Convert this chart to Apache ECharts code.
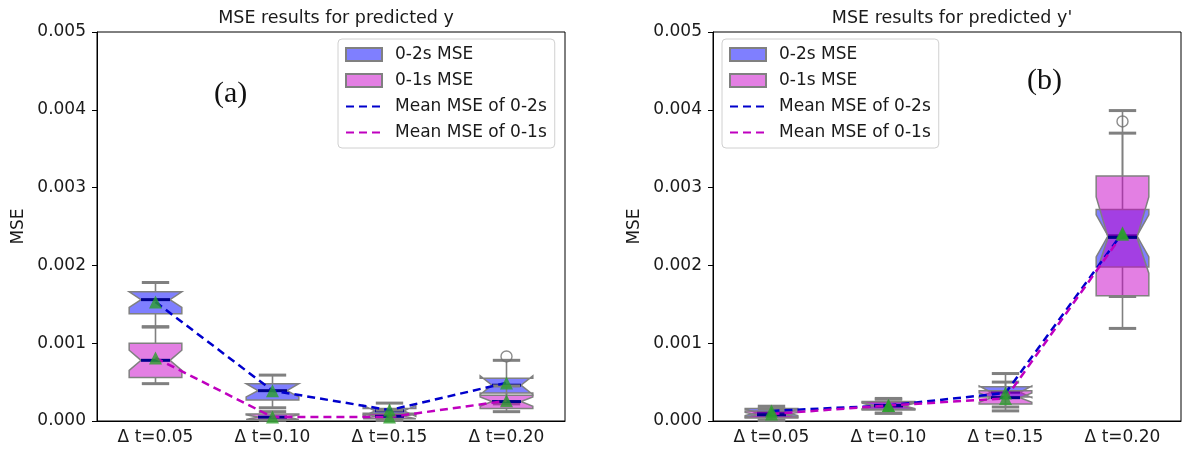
<!DOCTYPE html>
<html>
<head>
<meta charset="utf-8">
<script src="https://cdn.jsdelivr.net/npm/echarts@6/dist/echarts.min.js"></script>
<style>
  html, body { margin: 0; padding: 0; background: #fff; }
  #main { width: 1182px; height: 457px; }
</style>
</head>
<body>
<div id="main"></div>
<script>
// categories on both panels
var categories = ['Δ t=0.05', 'Δ t=0.10', 'Δ t=0.15', 'Δ t=0.20'];
var yTicks = [0, 0.001, 0.002, 0.003, 0.004, 0.005];

// (a) predicted y : box stats per category = [low, q1, median, q3, high]
var a2sBox = [[0.00121, 0.00138, 0.00156, 0.00166, 0.00178], [0.00017, 0.00027, 0.00039, 0.00048, 0.00059], [0.00001, 0.00008, 0.00013, 0.00016, 0.00023], [0.00022, 0.00036, 0.00046, 0.00055, 0.00078]];
var a2sNotch = [[0.00146, 0.00166], [0.00031, 0.00048], [0.00006, 0.00020], [0.00034, 0.00058]];
var a2sMean = [0.00153, 0.00039, 0.00014, 0.00049];
var a2sOut = [[3, 0.00083]];
var a1sBox = [[0.00048, 0.00056, 0.00078, 0.00100, 0.00121], [0.00001, 0.00002, 0.00005, 0.00009, 0.00012], [0.00001, 0.00003, 0.00006, 0.00010, 0.00014], [0.00012, 0.00016, 0.00025, 0.00033, 0.00045]];
var a1sNotch = [[0.00065, 0.00091], [0.00002, 0.00008], [0.00003, 0.00009], [0.00019, 0.00031]];
var a1sMean = [0.00081, 0.00005, 0.00005, 0.00026];

// (b) predicted y'
var b2sBox = [[0.00001, 0.00005, 0.00011, 0.00016, 0.00019], [0.00010, 0.00014, 0.00019, 0.00024, 0.00029], [0.00018, 0.00031, 0.00037, 0.00044, 0.00061], [0.00160, 0.00198, 0.00238, 0.00272, 0.00370]];
var b2sNotch = [[0.00007, 0.00015], [0.00015, 0.00023], [0.00030, 0.00045], [0.00211, 0.00265]];
var b2sMean = [0.00013, 0.00020, 0.00036, 0.00242];
var b2sOut = [[3, 0.00385]];
var b1sBox = [[0.00001, 0.00004, 0.00008, 0.00013, 0.00016], [0.00010, 0.00015, 0.00020, 0.00025, 0.00028], [0.00013, 0.00022, 0.00030, 0.00039, 0.00050], [0.00119, 0.00161, 0.00236, 0.00315, 0.00399]];
var b1sNotch = [[0.00005, 0.00011], [0.00016, 0.00024], [0.00024, 0.00036], [0.00190, 0.00288]];
var b1sMean = [0.00009, 0.00020, 0.00029, 0.00240];

var FONT = 'DejaVu Sans';
var BLUE_FILL = 'rgba(0,0,255,0.5)';
var PINK_FILL = 'rgba(200,0,200,0.5)';
var EDGE = '#808080';
var TXT = '#1a1a1a';

function boxData(box, notch) {
  return box.map(function (b, i) {
    return [i, b[0], b[1], b[2], b[3], b[4], notch[i][0], notch[i][1]];
  });
}

// matplotlib style notched box
function renderBox(params, api) {
  var i = api.value(0);
  var band = api.size([1, 0])[0];
  var hw = band * 0.225, nw = hw * 0.55, cw = hw * 0.52;
  var xc = api.coord([i, 0])[0];
  function y(k) { return api.coord([i, api.value(k)])[1]; }
  var low = y(1), q1 = y(2), med = y(3), q3 = y(4), high = y(5), nlo = y(6), nhi = y(7);
  var poly = [[xc - hw, q1], [xc + hw, q1], [xc + hw, nlo], [xc + nw, med], [xc + hw, nhi], [xc + hw, q3],
    [xc - hw, q3], [xc - hw, nhi], [xc - nw, med], [xc - hw, nlo]];
  var ws = { stroke: EDGE, lineWidth: 1.6 };
  var cs = { stroke: EDGE, lineWidth: 3 };
  return {
    type: 'group',
    children: [
      { type: 'line', shape: { x1: xc, y1: q1, x2: xc, y2: low }, style: ws },
      { type: 'line', shape: { x1: xc, y1: q3, x2: xc, y2: high }, style: ws },
      { type: 'line', shape: { x1: xc - cw, y1: low, x2: xc + cw, y2: low }, style: cs },
      { type: 'line', shape: { x1: xc - cw, y1: high, x2: xc + cw, y2: high }, style: cs },
      { type: 'polygon', shape: { points: poly }, style: { fill: api.visual('color'), stroke: EDGE, lineWidth: 1.5 } },
      { type: 'line', shape: { x1: xc - nw, y1: med, x2: xc + nw, y2: med }, style: { stroke: '#00008b', lineWidth: 3 } }
    ]
  };
}

function panelSeries(g, box2, notch2, mean2, out2, box1, notch1, mean1) {
  return [
    { name: '0-2s MSE', type: 'custom', xAxisIndex: g, yAxisIndex: g, renderItem: renderBox,
      itemStyle: { color: BLUE_FILL, borderColor: EDGE, borderWidth: 1 },
      encode: { x: 0, y: [1, 2, 3, 4, 5] }, data: boxData(box2, notch2), z: 2 },
    { name: '0-1s MSE', type: 'custom', xAxisIndex: g, yAxisIndex: g, renderItem: renderBox,
      itemStyle: { color: PINK_FILL, borderColor: EDGE, borderWidth: 1 },
      encode: { x: 0, y: [1, 2, 3, 4, 5] }, data: boxData(box1, notch1), z: 2 },
    { name: 'Mean MSE of 0-2s', type: 'line', xAxisIndex: g, yAxisIndex: g, data: mean2, symbol: 'none',
      lineStyle: { color: '#0000cc', width: 2.5, type: [8, 5] }, z: 3 },
    { name: 'Mean MSE of 0-1s', type: 'line', xAxisIndex: g, yAxisIndex: g, data: mean1, symbol: 'none',
      lineStyle: { color: '#bf00bf', width: 2.5, type: [8, 5] }, z: 3 },
    { type: 'scatter', xAxisIndex: g, yAxisIndex: g, symbol: 'triangle', symbolSize: 13,
      itemStyle: { color: '#2ca02c' }, z: 4,
      data: mean2.map(function (v, i) { return [i, v]; }).concat(mean1.map(function (v, i) { return [i, v]; })) },
    { type: 'scatter', xAxisIndex: g, yAxisIndex: g, symbol: 'circle', symbolSize: 11,
      itemStyle: { color: 'transparent', borderColor: '#707070', borderWidth: 1.4 }, z: 4, data: out2 }
  ];
}

function legendFor(left) {
  var noMark = { color: 'transparent', borderWidth: 0 };
  return {
    orient: 'vertical', left: left, top: 39,
    itemWidth: 36, itemHeight: 13, itemGap: 9,
    padding: [7, 8, 7, 7],
    borderColor: '#d0d0d0', borderWidth: 1, borderRadius: 4, backgroundColor: '#fff',
    textStyle: { fontFamily: FONT, fontSize: 17, color: TXT, padding: [0, 0, 0, 8] },
    data: [{ name: '0-2s MSE', icon: 'rect' }, { name: '0-1s MSE', icon: 'rect' },
      { name: 'Mean MSE of 0-2s', itemStyle: noMark }, { name: 'Mean MSE of 0-1s', itemStyle: noMark }]
  };
}

function xAxisFor(g) {
  return {
    type: 'category', gridIndex: g, data: categories,
    axisLine: { lineStyle: { color: '#000', width: 1 } },
    axisTick: { alignWithLabel: true, length: 5, lineStyle: { color: '#000' } },
    axisLabel: { fontFamily: FONT, fontSize: 17, color: TXT, margin: 8 }
  };
}

function yAxisFor(g) {
  return {
    type: 'value', gridIndex: g, min: yTicks[0], max: yTicks[yTicks.length - 1], interval: 0.001,
    name: 'MSE', nameLocation: 'middle', nameGap: 70, nameRotate: 90,
    nameTextStyle: { fontFamily: FONT, fontSize: 17, color: TXT },
    splitLine: { show: false },
    axisLine: { show: true, lineStyle: { color: '#000', width: 1 } },
    axisTick: { show: true, length: 5, lineStyle: { color: '#000' } },
    axisLabel: { fontFamily: FONT, fontSize: 17, color: TXT, margin: 11,
      formatter: function (v) { return v.toFixed(3); } }
  };
}

var chart = echarts.init(document.getElementById('main'));
chart.setOption({
  animation: false,
  backgroundColor: '#fff',
  title: [
    { text: 'MSE results for predicted y', left: 331, top: 4, textAlign: 'center',
      textStyle: { fontFamily: FONT, fontSize: 17.5, fontWeight: 'normal', color: TXT } },
    { text: "MSE results for predicted y'", left: 947, top: 4, textAlign: 'center',
      textStyle: { fontFamily: FONT, fontSize: 17.5, fontWeight: 'normal', color: TXT } }
  ],
  grid: [
    { left: 97, top: 32, width: 468, height: 389, show: true, borderColor: '#000', borderWidth: 1, backgroundColor: 'transparent' },
    { left: 713, top: 32, width: 468, height: 389, show: true, borderColor: '#000', borderWidth: 1, backgroundColor: 'transparent' }
  ],
  legend: [legendFor(338), legendFor(722)],
  xAxis: [xAxisFor(0), xAxisFor(1)],
  yAxis: [yAxisFor(0), yAxisFor(1)],
  graphic: [
    { type: 'text', left: 214, top: 79, style: { text: '(a)', font: '30px "Liberation Serif"', fill: '#111' } },
    { type: 'text', left: 1027, top: 66, style: { text: '(b)', font: '30px "Liberation Serif"', fill: '#111' } }
  ],
  series: panelSeries(0, a2sBox, a2sNotch, a2sMean, a2sOut, a1sBox, a1sNotch, a1sMean)
    .concat(panelSeries(1, b2sBox, b2sNotch, b2sMean, b2sOut, b1sBox, b1sNotch, b1sMean))
});
</script>
</body>
</html>
